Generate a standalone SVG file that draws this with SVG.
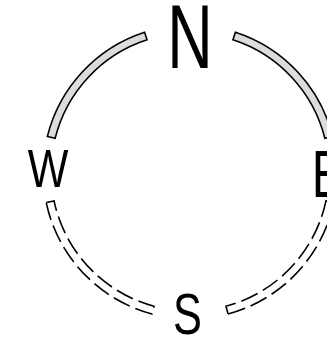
<svg xmlns="http://www.w3.org/2000/svg" width="327" height="337" viewBox="0 0 327 337">
<style>
.band{fill:#dcdcdc;stroke:#000;stroke-width:1.6;stroke-linejoin:miter}
.dash{fill:none;stroke:#000;stroke-width:1.6;stroke-dasharray:18 6}
.lbl{font-family:"Liberation Sans",Arial,sans-serif;fill:#000;text-anchor:middle}
</style>
<rect width="327" height="337" fill="#fff"/>
<g id="connectors">
<path class="band" d="M144.58,32.19 A147,147 0 0 0 47.37,136.44 L55.13,138.38 A139,139 0 0 1 147.05,39.80 Z"/>
<path class="band" d="M235.42,32.19 A147,147 0 0 1 332.63,136.44 L324.87,138.38 A139,139 0 0 0 232.95,39.80 Z"/>
<path class="dash" d="M46.22,202.56 A147,147 0 0 0 151.96,313.99 L154.03,306.26 A139,139 0 0 1 54.04,200.90 Z"/>
<path class="dash" d="M228.04,313.99 A147,147 0 0 0 333.78,202.56 L325.96,200.90 A139,139 0 0 1 225.97,306.26 Z"/>
</g>
<g id="N"><text class="lbl" font-size="90" transform="translate(190,68) scale(0.70,1)">N</text></g>
<g id="W"><text class="lbl" font-size="54.5" transform="translate(48,187) scale(0.79,1)">W</text></g>
<g id="E"><text class="lbl" font-size="66" transform="translate(328,197) scale(0.74,1)">E</text></g>
<g id="S"><text class="lbl" font-size="57" transform="translate(187.5,334) scale(0.76,1)">S</text></g>
</svg>
